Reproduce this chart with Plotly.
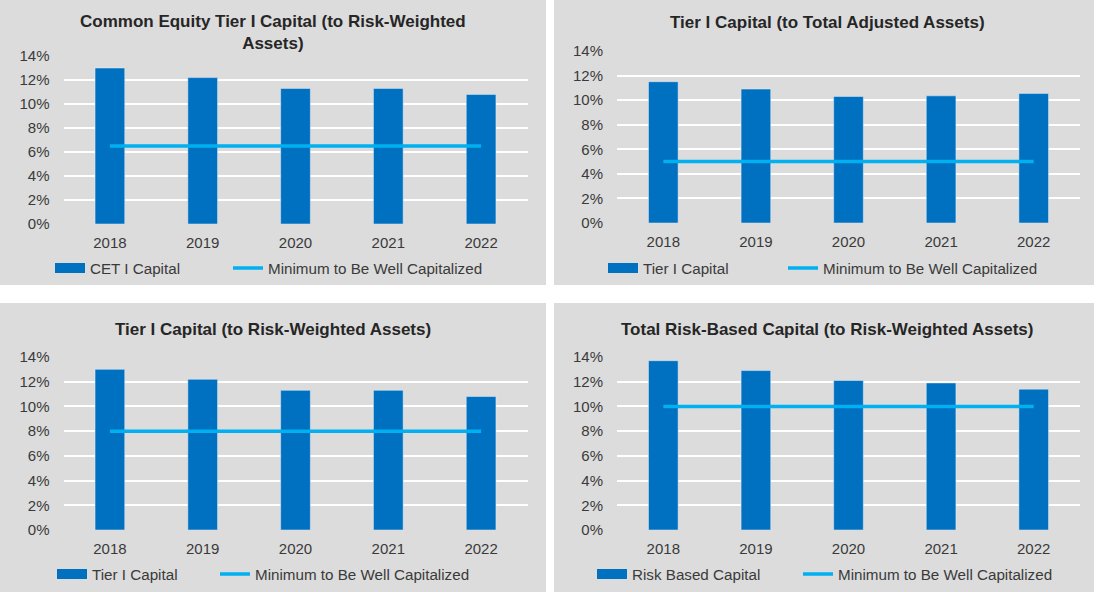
import plotly.graph_objects as go

W, H = 1099, 592

years = ["2018", "2019", "2020", "2021", "2022"]

titles = [
    "Common Equity Tier I Capital (to Risk-Weighted<br>Assets)",
    "Tier I Capital (to Total Adjusted Assets)",
    "Tier I Capital (to Risk-Weighted Assets)",
    "Total Risk-Based Capital (to Risk-Weighted Assets)",
]
bar_names = ["CET I Capital", "Tier I Capital", "Tier I Capital", "Risk Based Capital"]
line_name = "Minimum to Be Well Capitalized"

cet1_capital = [0.130, 0.122, 0.113, 0.113, 0.108]
tier1_leverage = [0.115, 0.109, 0.103, 0.1035, 0.1055]
tier1_rwa = [0.130, 0.122, 0.113, 0.113, 0.108]
total_risk_based = [0.137, 0.129, 0.121, 0.119, 0.114]
bar_values = [cet1_capital, tier1_leverage, tier1_rwa, total_risk_based]

well_capitalized_min = [0.065, 0.05, 0.08, 0.10]

BAR_COLOR = "#0070c0"
LINE_COLOR = "#00b0f0"
PANEL_BG = "#dcdcdc"
TEXT = "#3a3a3a"
FONT = "Liberation Sans, Arial, sans-serif"
TICK_SIZE = 15
LEG_SIZE = 15.2

# pixel geometry (left, right, top, bottom)
panels = [(0, 546, 0, 285), (554, 1094, 0, 285), (0, 546, 303, 592), (554, 1094, 303, 592)]
plots = [(63.5, 527.5, 56, 224), (617, 1080, 51, 223), (63.5, 527.5, 357, 530), (617, 1080, 357, 530)]
title_pos = [(273, 32.5), (827, 22), (273, 329), (827, 329)]
# (bar legend origin x, line legend origin x, center y)
legend_pos = [(50, 228, 268), (603, 783, 268), (52, 215, 574), (592, 798, 574)]


def px(x):
    return x / W


def py(y):
    return 1 - y / H


fig = go.Figure()
shapes = []
annotations = []
layout = {}

for i in range(4):
    n = "" if i == 0 else str(i + 1)
    xa, ya = "x" + n, "y" + n
    lg_bar = "legend" if i == 0 else "legend" + str(2 * i + 1)
    lg_line = "legend" + str(2 * i + 2)
    l, r, t, b = plots[i]

    fig.add_trace(go.Bar(
        x=years, y=bar_values[i], marker_color=BAR_COLOR, width=0.32,
        xaxis=xa, yaxis=ya, showlegend=False, hoverinfo="y",
    ))
    fig.add_trace(go.Scatter(
        x=[None], y=[None], mode="lines", name=bar_names[i],
        line=dict(color=BAR_COLOR, width=10), xaxis=xa, yaxis=ya, legend=lg_bar,
    ))
    fig.add_trace(go.Scatter(
        x=years, y=[well_capitalized_min[i]] * len(years), mode="lines", name=line_name,
        line=dict(color=LINE_COLOR, width=3.5), xaxis=xa, yaxis=ya, legend=lg_line,
    ))

    layout["xaxis" + n] = dict(
        domain=[px(l), px(r)], anchor=ya, type="category", showgrid=False,
        zeroline=False, showline=False, ticks="outside", ticklen=5,
        tickcolor="rgba(0,0,0,0)", tickfont=dict(size=TICK_SIZE, color=TEXT, family=FONT),
        fixedrange=True, automargin=False,
    )
    layout["yaxis" + n] = dict(
        domain=[py(b), py(t)], anchor=xa, range=[0, 0.14], dtick=0.02,
        tickformat=".0%", showgrid=True, gridcolor="white", gridwidth=1.5,
        zeroline=False, showline=False, ticks="outside", ticklen=10,
        tickcolor="rgba(0,0,0,0)", tickfont=dict(size=TICK_SIZE, color=TEXT, family=FONT),
        fixedrange=True, automargin=False,
    )
    bx, lx, ly = legend_pos[i]
    for name, x0 in ((lg_bar, bx), (lg_line, lx)):
        layout[name] = dict(
            orientation="h", x=px(x0), y=py(ly), xanchor="left", yanchor="middle",
            bgcolor="rgba(0,0,0,0)", font=dict(size=LEG_SIZE, color=TEXT, family=FONT),
            itemwidth=30,
        )

    pl, pr, pt, pb = panels[i]
    shapes.append(dict(
        type="rect", xref="paper", yref="paper", x0=px(pl), x1=px(pr),
        y0=py(pb), y1=py(pt), fillcolor=PANEL_BG, line=dict(width=0), layer="below",
    ))
    tx, ty = title_pos[i]
    annotations.append(dict(
        text="<b>" + titles[i] + "</b>", xref="paper", yref="paper",
        x=px(tx), y=py(ty), xanchor="center", yanchor="middle", showarrow=False,
        font=dict(size=17, color="#262626", family=FONT),
    ))

fig.update_layout(
    width=W, height=H, margin=dict(l=0, r=0, t=0, b=0, autoexpand=False),
    paper_bgcolor="white", plot_bgcolor="rgba(0,0,0,0)",
    shapes=shapes, annotations=annotations,
    **layout,
)

fig.write_html(
    "out.html",
    config={"displayModeBar": False},
    post_script="document.body.style.margin='0';document.body.style.padding='0';",
)
